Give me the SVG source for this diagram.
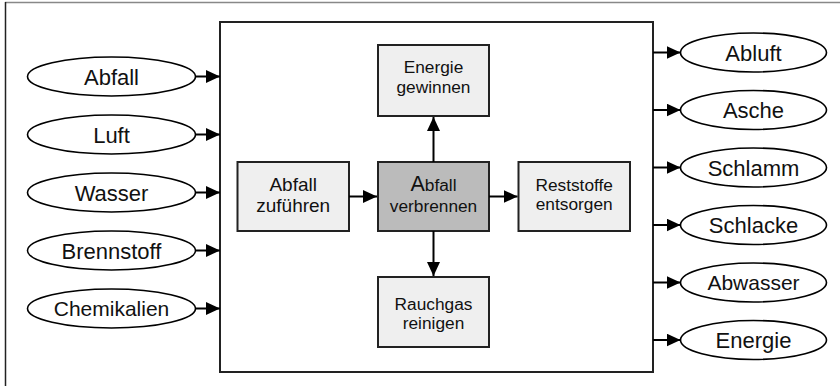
<svg xmlns="http://www.w3.org/2000/svg" width="840" height="386" viewBox="0 0 840 386">
<defs>
<marker id="ah" markerUnits="userSpaceOnUse" markerWidth="15" markerHeight="13" refX="14" refY="6.5" orient="auto">
<path d="M0,0 L14,6.5 L0,13 z" fill="#000"/>
</marker>
<style>
.el{fill:#fff;stroke:#000;stroke-width:1.6}
.bx{fill:#efefef;stroke:#222;stroke-width:2}
.bxc{fill:#bbbbbb;stroke:#222;stroke-width:2}
.ln{stroke:#000;stroke-width:2;fill:none}
text{font-family:"Liberation Sans",Arial,sans-serif;fill:#111;text-anchor:middle}
.t22{font-size:22px}
.t17{font-size:17.3px}
.t19{font-size:19px}
</style>
</defs>
<rect x="0" y="0" width="840" height="386" fill="#fff"/>
<line x1="5" y1="2.5" x2="840" y2="2.5" stroke="#888" stroke-width="1.5"/>
<line x1="5.5" y1="2" x2="5.5" y2="386" stroke="#222" stroke-width="1.5"/>
<g id="main"><rect x="220" y="22" width="433" height="350" fill="#fff" stroke="#222" stroke-width="2"/></g>

<g id="in-abfall"><ellipse class="el" cx="111.5" cy="76.5" rx="84" ry="19.5"/><text class="t22" x="111.5" y="84.5">Abfall</text></g>
<g id="in-luft"><ellipse class="el" cx="111.5" cy="134.5" rx="84" ry="19.5"/><text class="t22" x="111.5" y="142.5">Luft</text></g>
<g id="in-wasser"><ellipse class="el" cx="111.5" cy="192.5" rx="84" ry="19.5"/><text class="t22" x="111.5" y="200.5">Wasser</text></g>
<g id="in-brennstoff"><ellipse class="el" cx="111.5" cy="250.5" rx="84" ry="19.5"/><text class="t22" x="111.5" y="258.5">Brennstoff</text></g>
<g id="in-chemikalien"><ellipse class="el" cx="111.5" cy="308.5" rx="84" ry="19.5"/><text x="111.5" y="316" font-size="21">Chemikalien</text></g>

<g id="out-abluft"><ellipse class="el" cx="753.5" cy="52.5" rx="73" ry="19.5"/><text class="t22" x="753.5" y="60.5">Abluft</text></g>
<g id="out-asche"><ellipse class="el" cx="753.5" cy="110" rx="73" ry="19.5"/><text class="t22" x="753.5" y="118">Asche</text></g>
<g id="out-schlamm"><ellipse class="el" cx="753.5" cy="167.5" rx="73" ry="19.5"/><text class="t22" x="753.5" y="175.5">Schlamm</text></g>
<g id="out-schlacke"><ellipse class="el" cx="753.5" cy="225" rx="73" ry="19.5"/><text class="t22" x="753.5" y="233">Schlacke</text></g>
<g id="out-abwasser"><ellipse class="el" cx="753.5" cy="282.5" rx="73" ry="19.5"/><text x="753.5" y="290" font-size="21">Abwasser</text></g>
<g id="out-energie"><ellipse class="el" cx="753.5" cy="340" rx="73" ry="19.5"/><text class="t22" x="753.5" y="348">Energie</text></g>

<g id="energie-gewinnen"><rect class="bx" x="378" y="45" width="111" height="71"/><text class="t17" x="433.5" y="73">Energie</text><text class="t17" x="433.5" y="93">gewinnen</text></g>
<g id="abfall-zufuehren"><rect class="bx" x="237.5" y="162" width="111.5" height="69"/><text class="t19" x="293.2" y="191">Abfall</text><text class="t19" x="293.2" y="212">zuführen</text></g>
<g id="abfall-verbrennen"><rect class="bxc" x="378" y="162" width="111" height="69"/><text x="433.5" y="191"><tspan font-size="21.5">A</tspan><tspan font-size="17.3">bfall</tspan></text><text class="t17" x="433.5" y="211.5">verbrennen</text></g>
<g id="reststoffe-entsorgen"><rect class="bx" x="518.5" y="162" width="111.5" height="69"/><text class="t17" x="574.2" y="191">Reststoffe</text><text class="t17" x="574.2" y="210">entsorgen</text></g>
<g id="rauchgas-reinigen"><rect class="bx" x="378" y="277" width="111" height="70"/><text class="t17" x="433.5" y="310">Rauchgas</text><text class="t17" x="433.5" y="329">reinigen</text></g>

<g id="connectors">
<line class="ln" x1="195.5" y1="76.5" x2="220" y2="76.5" marker-end="url(#ah)"/>
<line class="ln" x1="195.5" y1="134.5" x2="220" y2="134.5" marker-end="url(#ah)"/>
<line class="ln" x1="195.5" y1="192.5" x2="220" y2="192.5" marker-end="url(#ah)"/>
<line class="ln" x1="195.5" y1="250.5" x2="220" y2="250.5" marker-end="url(#ah)"/>
<line class="ln" x1="195.5" y1="308.5" x2="220" y2="308.5" marker-end="url(#ah)"/>
<line class="ln" x1="653" y1="52.5" x2="680.5" y2="52.5" marker-end="url(#ah)"/>
<line class="ln" x1="653" y1="110" x2="680.5" y2="110" marker-end="url(#ah)"/>
<line class="ln" x1="653" y1="167.5" x2="680.5" y2="167.5" marker-end="url(#ah)"/>
<line class="ln" x1="653" y1="225" x2="680.5" y2="225" marker-end="url(#ah)"/>
<line class="ln" x1="653" y1="282.5" x2="680.5" y2="282.5" marker-end="url(#ah)"/>
<line class="ln" x1="653" y1="340" x2="680.5" y2="340" marker-end="url(#ah)"/>
<line class="ln" x1="349" y1="196.5" x2="377" y2="196.5" marker-end="url(#ah)"/>
<line class="ln" x1="489" y1="196.5" x2="517.5" y2="196.5" marker-end="url(#ah)"/>
<line class="ln" x1="433.5" y1="162" x2="433.5" y2="117" marker-end="url(#ah)"/>
<line class="ln" x1="433.5" y1="231" x2="433.5" y2="276" marker-end="url(#ah)"/>
</g>
</svg>
